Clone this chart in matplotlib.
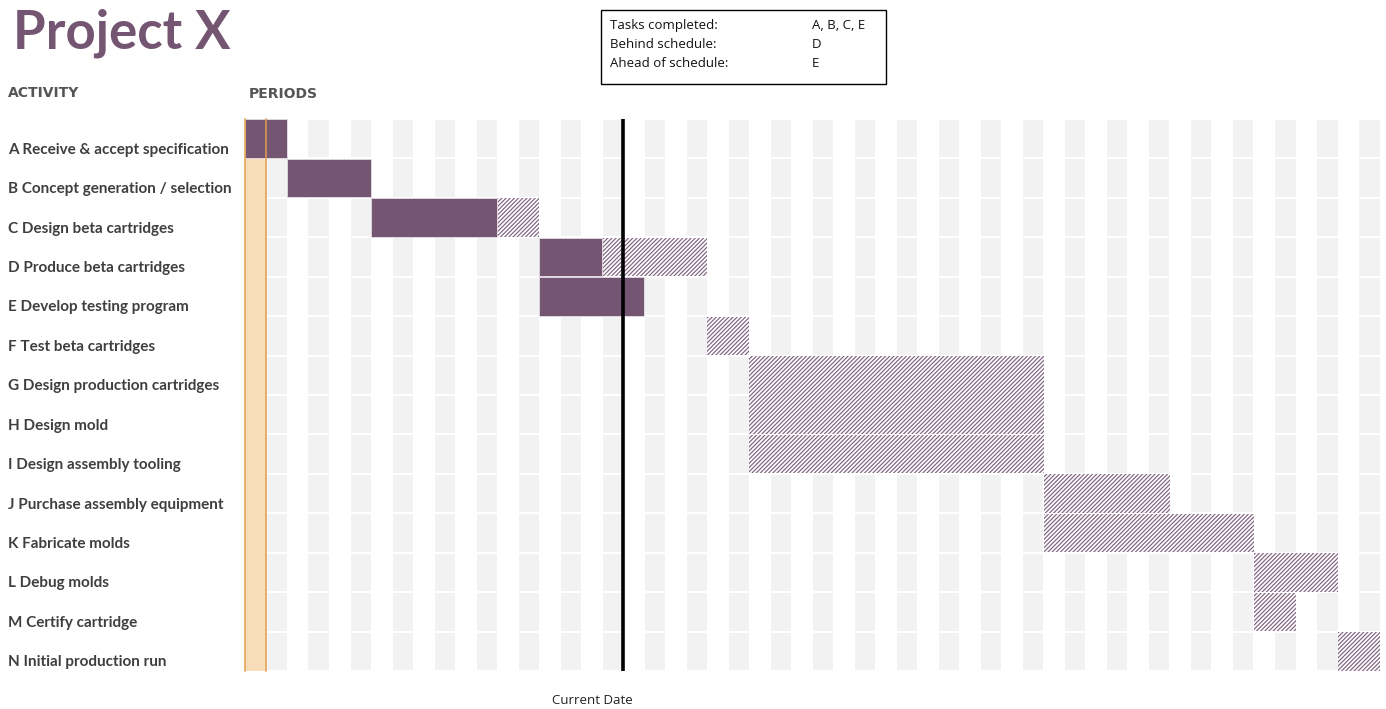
import matplotlib
matplotlib.use("Agg")
import matplotlib.pyplot as plt
from matplotlib.patches import Rectangle
from matplotlib.transforms import blended_transform_factory

# activity list with planned / actual (start period, duration)
activities = [
    "A Receive & accept specification",
    "B Concept generation / selection",
    "C Design beta cartridges",
    "D Produce beta cartridges",
    "E Develop testing program",
    "F Test beta cartridges",
    "G Design production cartridges",
    "H Design mold",
    "I Design assembly tooling",
    "J Purchase assembly equipment",
    "K Fabricate molds",
    "L Debug molds",
    "M Certify cartridge",
    "N Initial production run",
]
plan_start = [1, 3, 7, 15, 15, 23, 25, 25, 25, 39, 39, 49, 49, 53]
plan_dur = [2, 4, 8, 8, 5, 2, 14, 14, 14, 6, 10, 4, 2, 2]
actual_start = [1, 3, 7, 15, 15, 23, 25, 25, 25, 39, 39, 49, 49, 53]
actual_dur = [2, 4, 6, 3, 5, 0, 0, 0, 0, 0, 0, 0, 0, 0]

n_periods = 54
highlight_period = 1
current_period = 19

legend_keys = ["Tasks completed:", "Behind schedule:", "Ahead of schedule:"]
legend_vals = ["A, B, C, E", "D", "E"]

PURPLE = "#745672"
HATCH = "#7e6180"
GRAY = "#f2f2f2"
ORANGE_FILL = "#f8ddbb"
ORANGE_LINE = "#e0a04a"
TEXT = "#3f3f3f"

plt.rcParams["hatch.linewidth"] = 0.85
plt.rcParams["hatch.color"] = HATCH

fig = plt.figure(figsize=(13.86, 7.09), dpi=100)
W, H = 1386, 709
ax = fig.add_axes([245 / W, 1 - 671 / H, (1380 - 245) / W, (671 - 119) / H])
ax.set_xlim(1, 1 + n_periods)
ax.set_ylim(len(activities), 0)
ax.axis("off")

# striped period columns
for row in range(len(activities)):
    for p in range(1, n_periods + 1):
        if p == highlight_period:
            ax.add_patch(Rectangle((p, row), 1, 1, facecolor=ORANGE_FILL,
                                   edgecolor="none", zorder=0))
        elif p % 2 == 0:
            ax.add_patch(Rectangle((p + 0.02, row + 0.025), 0.96, 0.95,
                                   facecolor=GRAY, edgecolor="none", zorder=0))

# plan (hatched) then actual (solid) bars
for row in range(len(activities)):
    if plan_dur[row] > 0:
        ax.add_patch(Rectangle((plan_start[row], row + 0.01), plan_dur[row], 0.98,
                               facecolor="white", edgecolor=HATCH, hatch="////////",
                               linewidth=0, zorder=2))
    if actual_dur[row] > 0:
        ax.add_patch(Rectangle((actual_start[row], row + 0.01), actual_dur[row], 0.98,
                               facecolor=PURPLE, edgecolor="#e8e0e8",
                               linewidth=0.6, zorder=3))

# highlighted period borders
for x in (highlight_period + 0.02, highlight_period + 1):
    ax.axvline(x, color=ORANGE_LINE, lw=1.1, zorder=4, clip_on=False)

# current date marker
ax.axvline(current_period, color="black", lw=2.6, zorder=5)
fig.text(592 / W, 1 - 700 / H, "Current Date", ha="center", va="center",
         fontsize=9.5, family="Open Sans", color="#222222")

# activity labels, sitting low in each row
tr = blended_transform_factory(fig.transFigure, ax.transData)
for row, name in enumerate(activities):
    ax.text(8 / W, row + 0.78, name, transform=tr, ha="left", va="center",
            fontsize=11, family="Lato", fontweight="bold", color=TEXT)

# headings
fig.text(13 / W, 1 - 33 / H, "Project X", ha="left", va="center",
         fontsize=38, family="Lato", fontweight="bold", color=PURPLE)
fig.text(8 / W, 1 - 93 / H, "ACTIVITY", ha="left", va="center",
         fontsize=10, family="DejaVu Sans", fontweight="bold", color="#555555")
fig.text(249 / W, 1 - 94 / H, "PERIODS", ha="left", va="center",
         fontsize=10, family="DejaVu Sans", fontweight="bold", color="#555555")

# status box
fig.patches.append(Rectangle((601 / W, 1 - 84 / H), (886 - 601) / W, (84 - 10) / H,
                             transform=fig.transFigure, facecolor="white",
                             edgecolor="black", linewidth=1.0))
for i, (k, v) in enumerate(zip(legend_keys, legend_vals)):
    y = 1 - (25.5 + i * 19) / H
    fig.text(610 / W, y, k, ha="left", va="center", fontsize=9.5,
             family="Open Sans", color="#111111")
    fig.text(812 / W, y, v, ha="left", va="center", fontsize=9.5,
             family="Open Sans", color="#111111")

fig.savefig("out.png", dpi=100, facecolor="white")
